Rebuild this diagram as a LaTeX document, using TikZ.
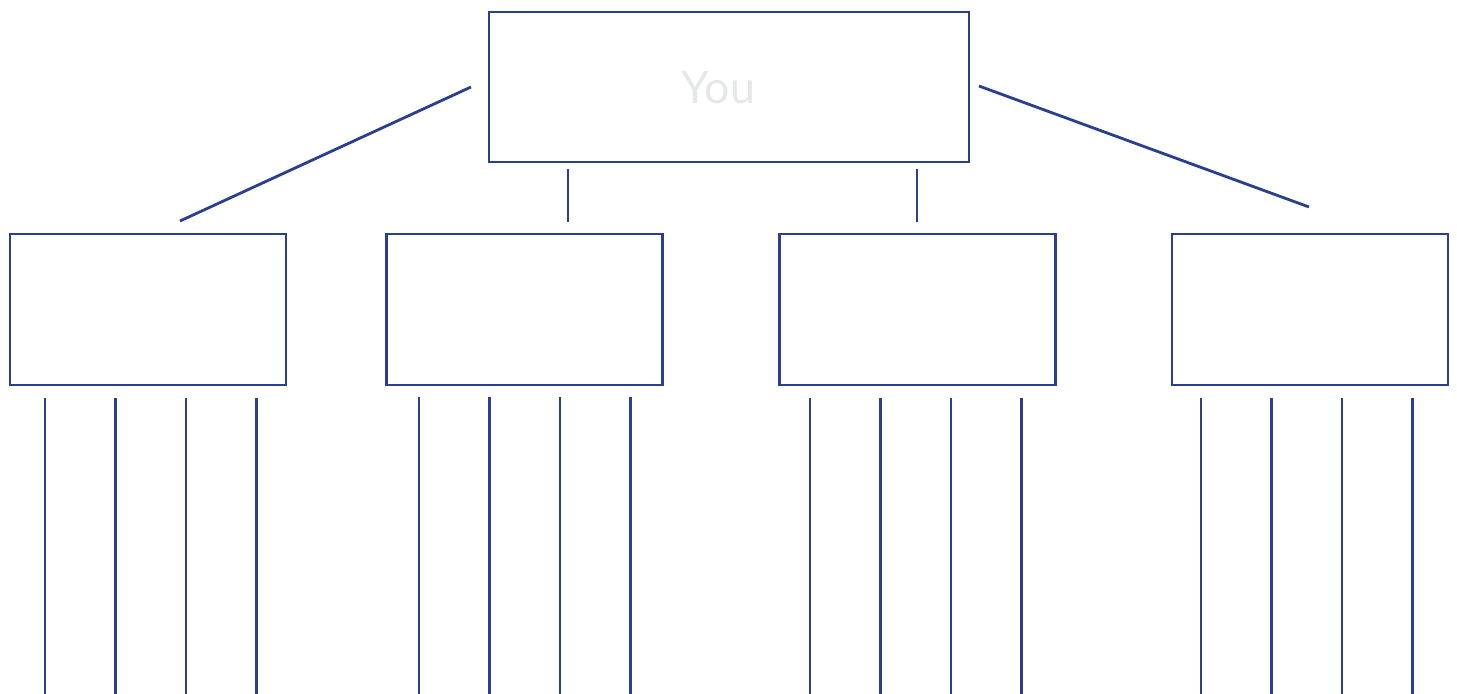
\documentclass[tikz,border=0pt]{standalone}
\usepackage{fontspec}
\newfontfamily\youfont{Lato}
\usetikzlibrary{calc}

\definecolor{navy}{HTML}{2A3F8F}
\definecolor{ghost}{HTML}{E6E7E9}

\begin{document}
\begin{tikzpicture}[
  line width=1.6pt,
  box/.style={draw=navy, inner sep=0pt, minimum width=5.52cm, minimum height=3.02cm},
  topbox/.style={box, minimum width=9.6cm, minimum height=3.0cm},
  wire/.style={draw=navy},
]
\useasboundingbox (0,0) rectangle (29.14,-13.88);

% Top: you
\node[topbox] (you) at (14.58,-1.74) {};
\node[text=ghost, font={\youfont\fontsize{25.5}{30}\selectfont}] (youlabel) at (14.37,-1.76) {You};

% Second row
\node[box] (b1) at (2.96,-6.19) {};
\node[box] (b2) at (10.49,-6.19) {};
\node[box] (b3) at (18.35,-6.19) {};
\node[box] (b4) at (26.20,-6.19) {};

% Free ends of the links between rows
\coordinate (ls) at (9.42,-1.74);
\coordinate (le) at (3.60,-4.42);
\coordinate (m2s) at (11.36,-3.38);
\coordinate (m2e) at (11.36,-4.44);
\coordinate (m3s) at (18.34,-3.38);
\coordinate (m3e) at (18.34,-4.44);
\coordinate (rs) at (19.58,-1.72);
\coordinate (re) at (26.18,-4.14);

\draw[wire] (ls) -- (le);
\draw[wire] (m2s) -- (m2e);
\draw[wire] (m3s) -- (m3e);
\draw[wire] (rs) -- (re);

% Legs under each box
\foreach \b/\x/\t in {b1/0.90/7.96, b2/8.38/7.94, b3/16.20/7.96, b4/24.02/7.96}{
  \foreach \k in {0,...,3}{
    \coordinate (\b-top-\k) at ({\x+1.41*\k},-\t);
    \coordinate (\b-bot-\k) at ({\x+1.41*\k},-13.88);
    \draw[wire] (\b-top-\k) -- (\b-bot-\k);
  }
}

\end{tikzpicture}
\end{document}
